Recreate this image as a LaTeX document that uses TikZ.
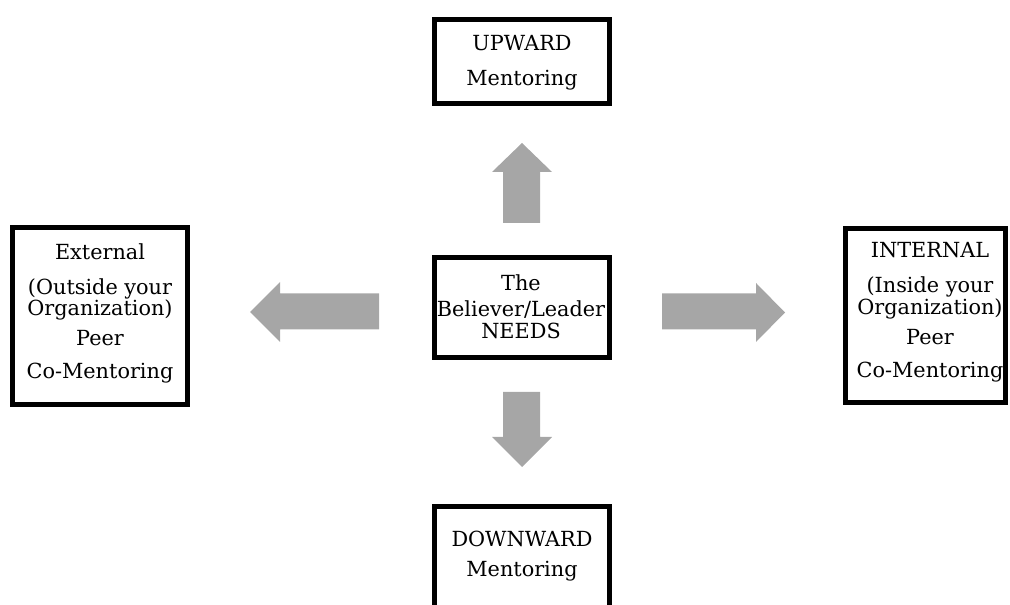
\documentclass[tikz,border=0pt]{standalone}
\usepackage{fontspec}
\setmainfont{DejaVu Serif}
\definecolor{arrowgray}{HTML}{A6A6A6}
\def\pxu{0.75pt}
\begin{document}
\begin{tikzpicture}[x=0.75pt,y=-0.75pt,
  box/.style={draw=black, line width=3.75pt, fill=white, inner sep=0pt},
  txt/.style={align=center, inner sep=0pt, font=\fontsize{15.6}{15}\selectfont},
  blockarrow/.style={fill=arrowgray, draw=none}]
\useasboundingbox (0,0) rectangle (1010,605);

% frames
\node[box, minimum width=175*\pxu, minimum height=84*\pxu]  (up)    at (522,61.5) {};
\node[box, minimum width=175*\pxu, minimum height=100*\pxu] (needs) at (522,307.5) {};
\node[box, minimum width=175*\pxu, minimum height=177*\pxu] (ext)   at (100,316) {};
\node[box, minimum width=160*\pxu, minimum height=174*\pxu] (int)   at (925.5,315.5) {};
\node[box, minimum width=175*\pxu, minimum height=116*\pxu, anchor=north] (down) at (522,504.5) {};

% labels
\node[txt] (uptxt)    at (522,62.5)  {UPWARD\\[11.25pt]Mentoring};
\node[txt] (needstxt) at (521,307)   {The\\[4.5pt]Believer/Leader\\[1.5pt]NEEDS};
\node[txt] (exttxt)   at (100,313.5) {External\\[11.25pt](Outside your\\Organization)\\[7.5pt]Peer\\[9.75pt]Co-Mentoring};
\node[txt] (inttxt)   at (930,312.5) {INTERNAL\\[11.25pt](Inside your\\Organization)\\[7.5pt]Peer\\[9.75pt]Co-Mentoring};
\node[txt] (downtxt)  at (522,556)   {DOWNWARD\\[7.5pt]Mentoring};

% block arrows pointing outwards from the centre
\fill[blockarrow] (503,223) -- (503,172) -- (492,172) -- (522,143) -- (552,172) -- (540,172) -- (540,223) -- cycle;
\fill[blockarrow] (503,392) -- (540,392) -- (540,437) -- (552,437) -- (522,467) -- (492,437) -- (503,437) -- cycle;
\fill[blockarrow] (379,293.5) -- (280,293.5) -- (280,282) -- (250,312) -- (280,342) -- (280,329.5) -- (379,329.5) -- cycle;
\fill[blockarrow] (662,293.5) -- (756,293.5) -- (756,283) -- (785,312.5) -- (756,342) -- (756,329.5) -- (662,329.5) -- cycle;
\end{tikzpicture}
\end{document}
